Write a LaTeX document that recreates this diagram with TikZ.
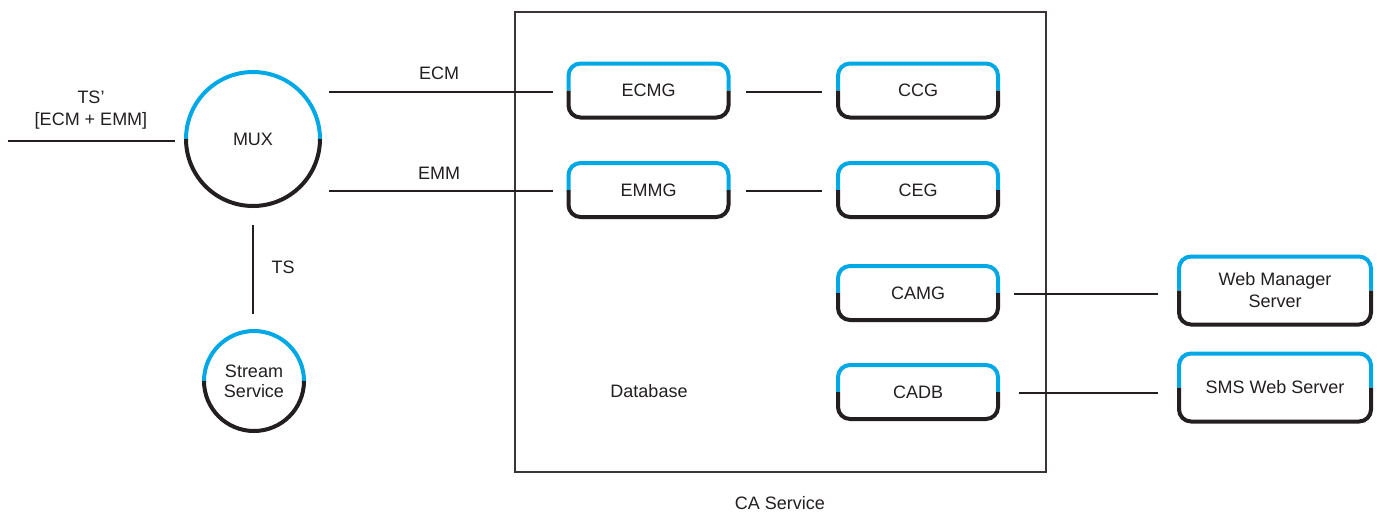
\documentclass[tikz,border=0pt]{standalone}
\usepackage{fontspec}
\setmainfont{Liberation Sans}
\definecolor{cablue}{HTML}{00A9E6}
\definecolor{cadark}{HTML}{231F20}
\tikzset{
 lbl/.style={font=\fontsize{18}{22}\selectfont, text=cadark, align=center, inner sep=0pt},
 gbox/.style={lbl, minimum width=160pt, minimum height=54pt, outer sep=0pt},
 wbox/.style={lbl, minimum width=192pt, minimum height=68pt, outer sep=0pt},
 conn/.style={draw=cadark, line width=2pt},
 bluepart/.style={draw=cablue, line width=4pt, rounded corners=12pt},
 darkpart/.style={draw=cadark, line width=4pt, rounded corners=12pt},
 ring/.style={lbl, circle, outer sep=0pt},
}
\newcommand{\splitbox}[1]{%
 \draw[bluepart] (#1.west) |- (#1.north) -| (#1.east);
 \draw[darkpart] (#1.west) |- (#1.south) -| (#1.east);}
\newcommand{\splitring}[2]{%
 \draw[cablue, line width=4pt] (#1.west) arc[start angle=180, end angle=0, radius=#2];
 \draw[cadark, line width=4pt] (#1.west) arc[start angle=180, end angle=360, radius=#2];}
\begin{document}
\begin{tikzpicture}[x=1pt, y=-1pt]
\useasboundingbox[fill=white] (0,0) rectangle (1384,515);
% CA Service container
\node[draw=cadark!90, line width=2pt, minimum width=531pt, minimum height=460pt, inner sep=0pt] (ca) at (780.5,242) {};
\node[lbl] (calbl) at (780,503) {CA Service};
\node[lbl] (db) at (649,391) {Database};
% circles
\node[ring, minimum size=134pt] (mux) at (253,139) {MUX};
\splitring{mux}{67pt}
\node[ring, minimum size=100pt, font=\fontsize{18}{20}\selectfont] (stream) at (254,381) {Stream\\Service};
\splitring{stream}{50pt}
% boxes
\node[gbox] (ecmg) at (648.5,90.5) {ECMG};
\node[gbox] (ccg) at (918,90.5) {CCG};
\node[gbox] (emmg) at (648.5,190) {EMMG};
\node[gbox] (ceg) at (918,190) {CEG};
\node[gbox] (camg) at (918,293) {CAMG};
\node[gbox] (cadb) at (918,392) {CADB};
\node[wbox] (web) at (1275,290.5) {Web Manager\\Server};
\node[wbox] (sms) at (1275,387.5) {SMS Web Server};
\foreach \n in {ecmg,ccg,emmg,ceg,camg,cadb,web,sms} {\splitbox{\n}}
% connectors
\coordinate (tsin) at (8,141);
\draw[conn, shorten >=11pt] (tsin) -- (tsin -| mux.west);
\node[lbl] (tslbl) at (91,110) {TS’\\{}[ECM + EMM]};
\draw[conn] ([xshift=9pt]mux.east |- 0,92) -- ([xshift=-16pt]ecmg.west |- 0,92);
\node[lbl] (ecmlbl) at (439,73) {ECM};
\draw[conn] ([xshift=9pt]mux.east |- 0,191) -- ([xshift=-16pt]emmg.west |- 0,191);
\node[lbl] (emmlbl) at (439,173) {EMM};
\draw[conn] ([xshift=17pt]ecmg.east |- 0,92) -- ([xshift=-16pt]ccg.west |- 0,92);
\draw[conn] ([xshift=17pt]emmg.east |- 0,191) -- ([xshift=-16pt]ceg.west |- 0,191);
\draw[conn] ([xshift=16pt]camg.east |- 0,294) -- ([xshift=-21pt]web.west |- 0,294);
\draw[conn] ([xshift=21pt]cadb.east |- 0,393) -- ([xshift=-21pt]sms.west |- 0,393);
\draw[conn] ([yshift=-19pt]mux.south -| 253,0) -- ([yshift=17pt]stream.north -| 253,0);
\node[lbl] (tsl) at (283,267) {TS};
\end{tikzpicture}
\end{document}
